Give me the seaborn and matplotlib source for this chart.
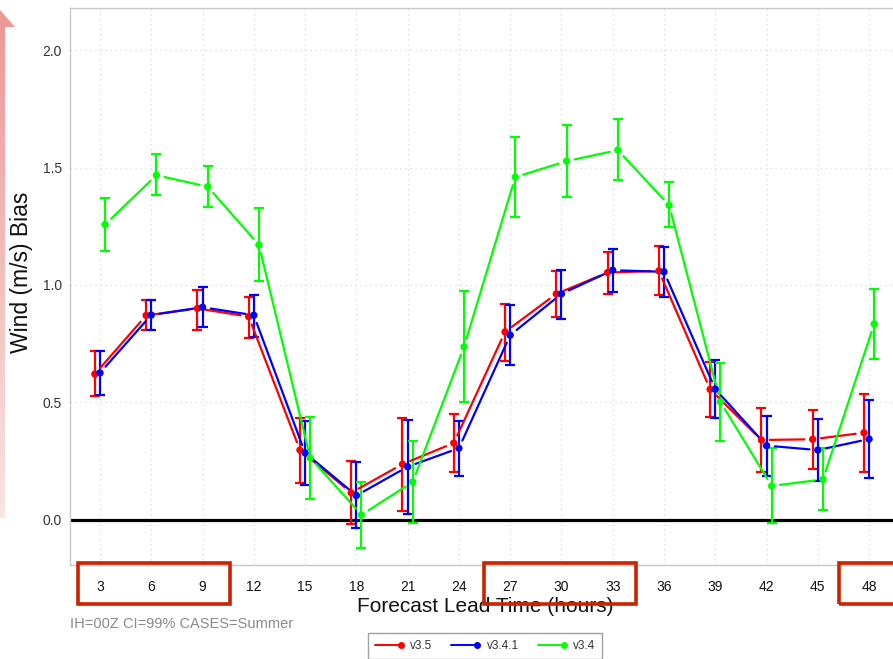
import numpy as np
import pandas as pd
import matplotlib
matplotlib.use("Agg")
import matplotlib.pyplot as plt
import seaborn as sns
from matplotlib.lines import Line2D
from matplotlib.patches import Rectangle, Polygon
from matplotlib.legend_handler import HandlerBase

# ---- data: wind bias by forecast lead time, with 99% confidence limits ----
lead = [3, 6, 9, 12, 15, 18, 21, 24, 27, 30, 33, 36, 39, 42, 45, 48]

v35_bias = [0.62, 0.87, 0.90, 0.865, 0.296, 0.114, 0.236, 0.326,
            0.80, 0.962, 1.053, 1.06, 0.555, 0.339, 0.342, 0.37]
v35_lo = [0.525, 0.81, 0.81, 0.775, 0.156, -0.018, 0.036, 0.203,
          0.675, 0.863, 0.962, 0.956, 0.438, 0.204, 0.214, 0.204]
v35_hi = [0.72, 0.935, 0.98, 0.95, 0.431, 0.25, 0.434, 0.451,
          0.92, 1.06, 1.142, 1.166, 0.673, 0.474, 0.467, 0.534]

v341_bias = [0.625, 0.872, 0.905, 0.871, 0.284, 0.102, 0.225, 0.304,
             0.786, 0.962, 1.063, 1.056, 0.556, 0.315, 0.296, 0.343]
v341_lo = [0.53, 0.81, 0.82, 0.78, 0.145, -0.038, 0.025, 0.186,
           0.658, 0.856, 0.971, 0.95, 0.431, 0.186, 0.163, 0.178]
v341_hi = [0.72, 0.935, 0.99, 0.959, 0.422, 0.244, 0.424, 0.42,
           0.913, 1.065, 1.154, 1.161, 0.68, 0.443, 0.43, 0.51]

v34_bias = [1.258, 1.468, 1.419, 1.171, 0.263, 0.02, 0.16, 0.736,
            1.46, 1.528, 1.575, 1.34, 0.502, 0.143, 0.171, 0.834]
v34_lo = [1.146, 1.382, 1.332, 1.015, 0.088, -0.122, -0.014, 0.502,
          1.291, 1.376, 1.446, 1.248, 0.336, -0.014, 0.04, 0.684]
v34_hi = [1.369, 1.557, 1.507, 1.329, 0.436, 0.159, 0.336, 0.975,
          1.632, 1.681, 1.706, 1.438, 0.666, 0.304, 0.304, 0.983]

models = ["v3.5", "v3.4.1", "v3.4"]
colors = ["#ff0000", "#0000ff", "#00ff00"]
x_shift = [-0.3, 0.0, 0.3]

frames = []
for name, b, lo, hi, dx in zip(models,
                               [v35_bias, v341_bias, v34_bias],
                               [v35_lo, v341_lo, v34_lo],
                               [v35_hi, v341_hi, v34_hi],
                               x_shift):
    frames.append(pd.DataFrame({"model": name, "lead": lead, "bias": b,
                                "lo": lo, "hi": hi,
                                "xpos": np.array(lead) + dx}))
df = pd.concat(frames, ignore_index=True)
palette = dict(zip(models, colors))

# ---- style ----
sns.set_theme(style="white")
plt.rcParams["font.family"] = ["Liberation Sans", "DejaVu Sans"]

W, H = 893, 659
fig = plt.figure(figsize=(W / 100, H / 100), dpi=100)
ax = fig.add_axes([70 / W, (H - 565) / H, (900 - 70) / W, (565 - 8) / H])

ax.set_xlim(1.245, 49.81)
ax.set_ylim(-0.194, 2.181)

# grid
ax.set_xticks(lead)
ax.set_yticks([0.0, 0.5, 1.0, 1.5, 2.0])
ax.set_yticklabels(["0.0", "0.5", "1.0", "1.5", "2.0"])
ax.grid(True, color="#d9d9d9", linestyle=(0, (1, 3)), linewidth=0.9)
ax.axhline(0.0, color="black", linewidth=2.3, zorder=2)

# error bars
for name, c in zip(models, colors):
    d = df[df.model == name]
    ax.errorbar(d.xpos, d.bias, yerr=[d.bias - d.lo, d.hi - d.bias],
                fmt="none", ecolor=c, elinewidth=1.6, capsize=3.8,
                capthick=1.6, zorder=3)

# connecting lines, stopped short of each point
for name, c in zip(models, colors):
    d = df[df.model == name].reset_index(drop=True)
    for i in range(len(d) - 1):
        ax.annotate("", xy=(d.xpos[i + 1], d.bias[i + 1]),
                    xytext=(d.xpos[i], d.bias[i]),
                    arrowprops=dict(arrowstyle="-", color=c, lw=1.6,
                                    shrinkA=6, shrinkB=6),
                    zorder=3)

# points
sns.scatterplot(data=df, x="xpos", y="bias", hue="model", palette=palette,
                s=28, edgecolor="none", legend=False, ax=ax, zorder=4)

# axes appearance
for side in ["left", "bottom", "top", "right"]:
    ax.spines[side].set_color("#c8c8c8")
    ax.spines[side].set_linewidth(1.0)
ax.tick_params(axis="both", direction="in", length=5, width=0.8,
               color="#c8c8c8", labelsize=10)
ax.tick_params(axis="x", pad=11, labelcolor="#111111")
ax.tick_params(axis="y", pad=6, labelcolor="#333333")

ax.set_xlabel("Forecast Lead Time (hours)", fontsize=15, color="#111111")
ax.set_ylabel("Wind (m/s) Bias", fontsize=16.5, color="#111111")
ax.xaxis.set_label_coords((485 - 70) / (900 - 70), -(607 - 565) / 557)
ax.yaxis.set_label_coords(-(70 - 22) / 830, (565 - 272) / 557)
ax.xaxis.label.set_va("center")
ax.yaxis.label.set_va("center")

fig.text(70 / W, 1 - 624 / H, "IH=00Z CI=99% CASES=Summer", fontsize=10.5,
         color="#8a8a8a", ha="left", va="center")

# highlight boxes around groups of lead times
xt = ax.get_xaxis_transform()
for x0, x1 in [(1.7, 10.6), (25.47, 34.36), (46.24, 52.0)]:
    ax.add_patch(Rectangle((x0, -0.0705), x1 - x0, 0.0705 + 0.003,
                           transform=xt, fill=False, edgecolor="#cc2200",
                           linewidth=2.6, clip_on=False, zorder=6))


# legend with the dot at the end of each line
class EndDotHandler(HandlerBase):
    def create_artists(self, legend, orig_handle, xdescent, ydescent,
                       width, height, fontsize, trans):
        y = height / 2 - ydescent
        c = orig_handle.get_color()
        ln = Line2D([-xdescent, width - xdescent], [y, y], color=c, lw=1.4)
        dot = Line2D([width - xdescent], [y], marker="o", ms=4, color=c,
                     linestyle="none")
        ln.set_transform(trans)
        dot.set_transform(trans)
        return [ln, dot]


handles = [Line2D([], [], color=c) for c in colors]
leg = fig.legend(handles, models, ncol=3, loc="upper center",
                 bbox_to_anchor=(485 / W, 1 - 627 / H), fontsize=8.5,
                 frameon=True, fancybox=False, edgecolor="#888888",
                 handlelength=2.2, handletextpad=0.8, columnspacing=1.6,
                 borderpad=0.6, handler_map={Line2D: EndDotHandler()})
leg.get_frame().set_linewidth(1.0)
for t in leg.get_texts():
    t.set_color("#333333")

# pink upward arrow along the left edge
ov = fig.add_axes([0, 0, 1, 1], zorder=10)
ov.set_xlim(0, W)
ov.set_ylim(H, 0)
ov.axis("off")
grad = np.linspace(0, 1, 256)[:, None]
top = np.array([238, 150, 150]) / 255
bot = np.array([250, 228, 228]) / 255
img = top[None, None, :] * (1 - grad[:, :, None]) + bot[None, None, :] * grad[:, :, None]
im = ov.imshow(img, extent=[-16, 16, 518, 10], aspect="auto", interpolation="bilinear")
arrow = Polygon([(0, 10), (15, 27), (5, 27), (5, 518), (-5, 518), (-5, 27),
                 (-15, 27)], closed=True, transform=ov.transData,
                facecolor="none", edgecolor="none")
ov.add_patch(arrow)
im.set_clip_path(arrow)

fig.savefig("out.png", dpi=100)
